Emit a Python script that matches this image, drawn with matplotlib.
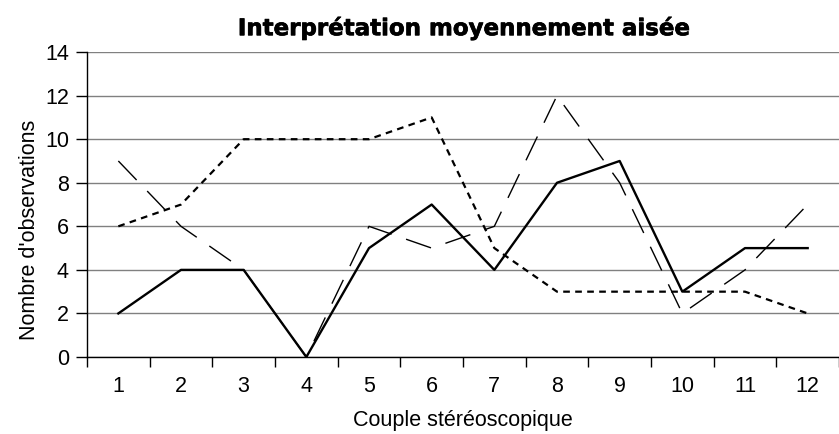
import numpy as np
import matplotlib
matplotlib.use("Agg")
import matplotlib.pyplot as plt
import matplotlib.patheffects as pe

plt.rcParams['font.family'] = ['Liberation Sans', 'DejaVu Sans']

couples = [1, 2, 3, 4, 5, 6, 7, 8, 9, 10, 11, 12]
serie_pleine = [2, 4, 4, 0, 5, 7, 4, 8, 9, 3, 5, 5]
serie_pointillee = [6, 7, 10, 10, 10, 11, 5, 3, 3, 3, 3, 2]
serie_tiretee = [9, 6, 4, 0, 6, 5, 6, 12, 8, 2, 4, 7]

fig = plt.figure(figsize=(8.39, 4.34), dpi=100)
ax = fig.add_axes([0.1037, 0.1774, 0.8963, 0.7026])

x = np.arange(len(couples))
ax.plot(x, serie_pointillee, color='black', lw=1.6, linestyle=(0, (3.0, 2.4)))
ax.plot(x, serie_tiretee, color='black', lw=1.0, linestyle=(0, (19, 11)))
ax.plot(x, serie_pleine, color='black', lw=1.7)

ax.set_xlim(-0.5, len(couples) - 0.5)
ax.set_ylim(0, 14)
ax.set_yticks(range(0, 15, 2))
ax.yaxis.grid(True, color='#808080', lw=1.0)
ax.set_axisbelow(True)

ax.set_xticks(x)
ax.set_xticklabels([str(c) for c in couples])
ax.set_xticks(np.arange(-0.5, len(couples)), minor=True)
ax.tick_params(axis='x', which='major', length=0, pad=14, labelsize=15.5)
ax.tick_params(axis='x', which='minor', length=7, width=1, direction='out')
ax.tick_params(axis='y', length=8, width=1, direction='out', pad=5, labelsize=15.5)

for side in ['top', 'right']:
    ax.spines[side].set_visible(False)
ax.spines['left'].set_linewidth(1)
ax.spines['bottom'].set_linewidth(1)

fig.text(0.035, 0.47, "Nombre d'observations", rotation=90, ha='center', va='center',
         fontsize=15.5)
fig.text(0.552, 0.03, "Couple stéréoscopique", ha='center', va='center', fontsize=15.5)
titre = fig.text(0.552, 0.935, "Interprétation moyennement aisée", ha='center', va='center',
                 fontsize=16.5, fontweight='heavy', family=['DejaVu Sans'])
titre.set_path_effects([pe.withStroke(linewidth=0.5, foreground='black')])

fig.savefig("out.png", dpi=100)
